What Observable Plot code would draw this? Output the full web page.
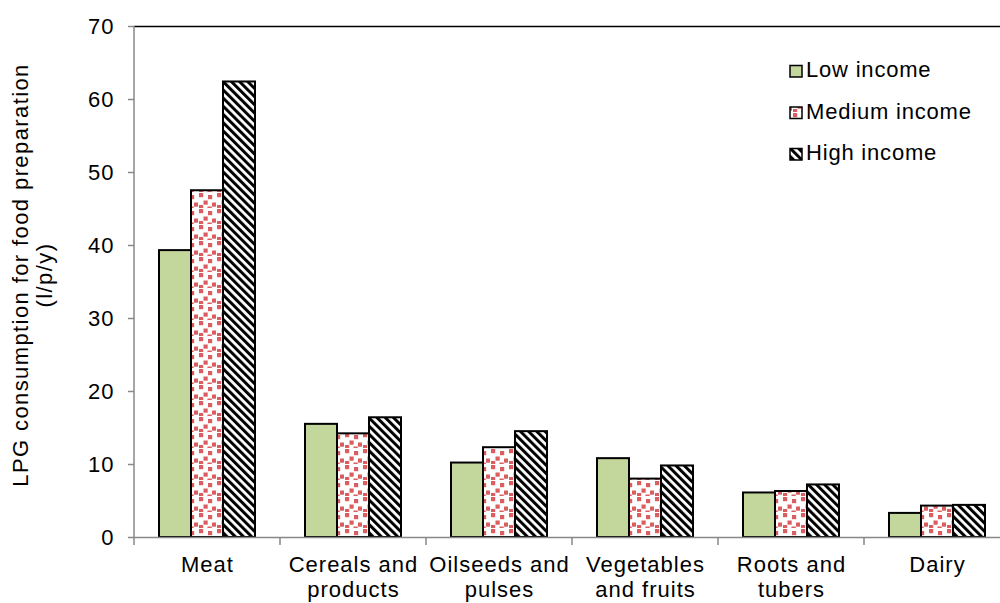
<!DOCTYPE html>
<html><head><meta charset="utf-8">
<script src="https://cdn.jsdelivr.net/npm/d3@7"></script>
<script src="https://cdn.jsdelivr.net/npm/@observablehq/plot@0.6"></script>
<style>
html,body{margin:0;padding:0;background:#fff;overflow:hidden;}
#wrap{position:relative;width:1000px;height:603px;overflow:hidden;}
#wrap svg{max-width:none !important;}
</style></head><body><div id="wrap"></div>
<script>
const categories = ["Meat","Cereals and\nproducts","Oilseeds and\npulses","Vegetables\nand fruits","Roots and\ntubers","Dairy"];
const incomes = ["Low income","Medium income","High income"];
const lowIncome = [39.3,15.5,10.2,10.8,6.1,3.3];
const mediumIncome = [47.5,14.2,12.3,8.0,6.3,4.3];
const highIncome = [62.4,16.4,14.5,9.8,7.2,4.4];
const yTicks = [0,10,20,30,40,50,60,70];
const yTitle = ["LPG consumption for food preparation","(l/p/y)"];
const fills = ["#c3d69b","url(#medPat)","url(#hiPat)"];

const series = [lowIncome, mediumIncome, highIncome];
const data = [];
categories.forEach((c, i) => incomes.forEach((inc, j) => data.push({category: c, income: inc, value: series[j][i]})));

const FONT = "'Liberation Sans', Arial, Helvetica, sans-serif";

const plot = Plot.plot({
  width: 1010, height: 603,
  marginLeft: 134, marginRight: 0, marginTop: 26, marginBottom: 66,
  style: {fontFamily: FONT, fontSize: "22px", background: "white", overflow: "visible", color: "#000", maxWidth: "none", letterSpacing: "1px"},
  fx: {domain: categories, paddingInner: 0, paddingOuter: 0, label: null},
  x: {domain: incomes, paddingInner: 0, paddingOuter: 0.753, axis: null},
  y: {domain: [0, 70], label: null},
  color: {domain: incomes, range: fills},
  marks: [
    Plot.axisY({ticks: yTicks, tickSize: 6, tickPadding: 14, stroke: "#888", strokeWidth: 1.5, fill: "#000", label: null}),
    Plot.axisFx({anchor: "bottom", tickSize: 0, tickPadding: 17, lineHeight: 1.14, fill: "#000", label: null}),
    Plot.barY(data, {fx: "category", x: "income", y: "value", fill: "income", stroke: "#000", strokeWidth: 2}),
    Plot.ruleY([0], {stroke: "#888", strokeWidth: 1.5}),
    Plot.ruleY([70], {stroke: "#000", strokeWidth: 1.5})
  ]
});

document.getElementById("wrap").appendChild(plot);
const svgNode = plot.tagName.toLowerCase() === "svg" ? plot : plot.querySelector("svg");
const svg = d3.select(svgNode);

// patterns
const defs = svg.insert("defs", ":first-child");
const med = defs.append("pattern").attr("id", "medPat").attr("patternUnits", "userSpaceOnUse")
  .attr("width", 18).attr("height", 16);
med.append("rect").attr("width", 18).attr("height", 16).attr("fill", "#fff");
[[1,1],[10,3],[5.5,8.5],[14,10.5],[1,13],[9.5,14.5]].forEach(([x, y]) =>
  med.append("rect").attr("x", x).attr("y", y).attr("width", 4.2).attr("height", 4.2).attr("fill", "#da5e60"));
const hi = defs.append("pattern").attr("id", "hiPat").attr("patternUnits", "userSpaceOnUse")
  .attr("width", 5.8).attr("height", 10).attr("patternTransform", "rotate(-45)");
hi.append("rect").attr("width", 5.8).attr("height", 10).attr("fill", "#fff");
hi.append("rect").attr("width", 3).attr("height", 10).attr("fill", "#000");

// axis line and category boundary ticks, from the scales
const fx = plot.scale("fx"), y = plot.scale("y");
const y0 = y.apply(0), yTop = y.apply(70);
const edges = fx.domain.map(c => fx.apply(c));
edges.push(edges[edges.length - 1] + fx.bandwidth);
const g = svg.append("g").attr("stroke", "#888").attr("stroke-width", 1.5);
g.append("line").attr("x1", edges[0]).attr("x2", edges[0]).attr("y1", yTop).attr("y2", y0 + 0.75);
edges.forEach(e => g.append("line").attr("x1", e).attr("x2", e).attr("y1", y0).attr("y2", y0 + 8));

// y title
const t = svg.append("text").attr("font-family", FONT).attr("font-size", 22).attr("fill", "#000")
  .attr("letter-spacing", "1.4px").attr("text-anchor", "middle")
  .attr("transform", `translate(28,275) rotate(-90)`);
yTitle.forEach((s, i) => t.append("tspan").attr("x", 0).attr("y", i * 24).text(s));

// legend
const leg = svg.append("g").attr("font-family", FONT).attr("font-size", 22).attr("text-anchor", "start");
incomes.forEach((inc, i) => {
  const by = 77 + i * 41.5;
  leg.append("rect").attr("x", 790).attr("y", by - 11.5).attr("width", 12).attr("height", 11.5)
    .attr("fill", fills[i]).attr("stroke", "#000").attr("stroke-width", 1.5);
  leg.append("text").attr("x", 806).attr("y", by).attr("fill", "#000").attr("letter-spacing", "0.8px").text(inc);
});
</script></body></html>
